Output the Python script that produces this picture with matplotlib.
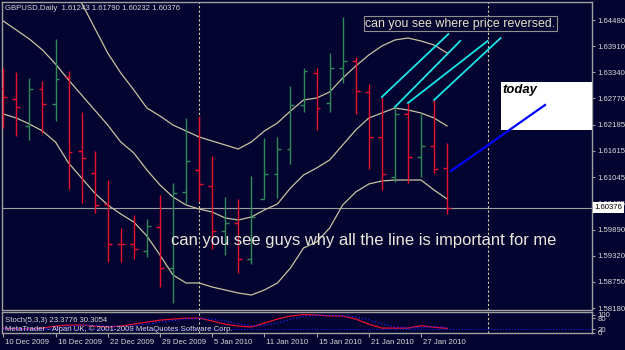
import numpy as np
import matplotlib.pyplot as plt
import matplotlib.transforms as mtransforms
from matplotlib.patches import Rectangle

plt.rcParams['font.family'] = ['Liberation Sans', 'DejaVu Sans']

# GBPUSD daily bars, 10 Dec 2009 .. 29 Jan 2010
opens = [1.62993, 1.62752, 1.62161, 1.62971, 1.62643, 1.63233, 1.61614, 1.61133, 1.60455, 1.59590,
         1.59580, 1.59427, 1.59952, 1.59055, 1.60718, 1.61199, 1.60849, 1.59864, 1.60039, 1.59252,
         1.60564, 1.61111, 1.61658, 1.62621, 1.63321, 1.62664, 1.63430, 1.63583, 1.62905, 1.61921,
         1.61046, 1.62424, 1.61483, 1.61724, 1.61243]
highs = [1.63430, 1.63343, 1.63211, 1.63146, 1.64064, 1.63364, 1.62468, 1.61614, 1.60980, 1.59930,
         1.60214, 1.60127, 1.60652, 1.60914, 1.62336, 1.62380, 1.61505, 1.60608, 1.60564, 1.61068,
         1.61899, 1.61921, 1.63036, 1.63430, 1.63430, 1.63758, 1.64546, 1.63671, 1.63080, 1.62796,
         1.62577, 1.62664, 1.62424, 1.62730, 1.61790]
lows = [1.62118, 1.61943, 1.61855, 1.62008, 1.62271, 1.60783, 1.60477, 1.60258, 1.59186, 1.59186,
        1.59252, 1.59296, 1.58639, 1.58289, 1.60455, 1.60521, 1.59471, 1.59339, 1.58946, 1.59143,
        1.60564, 1.60586, 1.61330, 1.62468, 1.62074, 1.62468, 1.63102, 1.62424, 1.61221, 1.60761,
        1.60936, 1.60914, 1.61046, 1.61133, 1.60232]
closes = [1.62796, 1.62577, 1.62971, 1.62643, 1.63189, 1.61593, 1.61461, 1.60433, 1.59580, 1.59570,
          1.59471, 1.59974, 1.59055, 1.60696, 1.61396, 1.60893, 1.59864, 1.60039, 1.59252, 1.60171,
          1.61111, 1.61658, 1.62621, 1.63364, 1.62555, 1.63430, 1.63583, 1.62927, 1.61921, 1.61111,
          1.62424, 1.61483, 1.61724, 1.61221, 1.60376]

# bollinger bands
upper = [1.66493, 1.66186, 1.65924, 1.65596, 1.65311, 1.65136, 1.64852, 1.64305, 1.63758, 1.63321,
         1.62949, 1.62555, 1.62380, 1.62183, 1.62052, 1.61921, 1.61833, 1.61746, 1.61658, 1.61811,
         1.62052, 1.62227, 1.62489, 1.62730, 1.62774, 1.62905, 1.63211, 1.63474, 1.63714, 1.63911,
         1.64043, 1.64086, 1.64021, 1.63933, 1.63758]
middle = [1.64458, 1.64261, 1.64064, 1.63824, 1.63518, 1.63168, 1.62839, 1.62511, 1.62183, 1.61811,
          1.61571, 1.61199, 1.60871, 1.60608, 1.60433, 1.60346, 1.60280, 1.60149, 1.60105, 1.60171,
          1.60324, 1.60455, 1.60805, 1.61089, 1.61243, 1.61418, 1.61746, 1.62074, 1.62336, 1.62446,
          1.62555, 1.62511, 1.62446, 1.62336, 1.62161]
lower = [1.62424, 1.62336, 1.62205, 1.62052, 1.61811, 1.61352, 1.61024, 1.60696, 1.60433, 1.60236,
         1.60061, 1.59755, 1.59339, 1.58902, 1.58727, 1.58727, 1.58639, 1.58574, 1.58508, 1.58464,
         1.58574, 1.58727, 1.59055, 1.59493, 1.59624, 1.59930, 1.60433, 1.60718, 1.60893, 1.60958,
         1.60980, 1.60980, 1.60980, 1.60761, 1.60564]

# stochastic (5,3,3)
stoch_main = [25, 20, 20, 25, 36, 42, 42, 36, 31, 36, 47, 58, 69, 75, 80, 80, 64, 47, 36, 31,
              53, 75, 92, 100, 97, 92, 92, 75, 47, 25, 25, 25, 38, 30, 23.3776]
stoch_signal = [25, 23, 21, 22, 27, 33, 40, 40, 36, 34, 38, 47, 58, 67, 75, 78, 75, 64, 49, 38,
                40, 53, 73, 89, 96, 96, 94, 86, 71, 49, 32, 25, 29, 33, 30.3054]

price_ticks = [1.64480, 1.63910, 1.63340, 1.62770, 1.62185, 1.61615, 1.61045, 1.60475,
               1.59890, 1.59320, 1.58750, 1.58180]
date_idx = [0, 4, 8, 12, 16, 20, 24, 28, 32]
date_labels = ["10 Dec 2009", "16 Dec 2009", "22 Dec 2009", "29 Dec 2009", "5 Jan 2010",
               "11 Jan 2010", "15 Jan 2010", "21 Jan 2010", "27 Jan 2010"]
separators = [15, 37.1]

# drawn objects (bar index, price)
cyan_lines = [((29, 1.62796), (34.1, 1.64174)),
              ((30, 1.62577), (35.0, 1.64021)),
              ((31, 1.62664), (37.1, 1.64021)),
              ((33, 1.62730), (38.1, 1.64086))]
blue_line = ((34.3, 1.61177), (41.5, 1.62621))
today_box = (38.1, 1.62074, 1.63124)

BG = '#040430'
GRID = '#a0a0a0'
TXT = '#d8d8d8'
GREEN = '#2e8b57'
RED = '#e8102c'
BAND = '#c8c3a0'

fig = plt.figure(figsize=(6.25, 3.5), dpi=100, facecolor=BG)
ax = fig.add_axes([2 / 625, 1 - 310 / 350, 590 / 625, 308 / 350], facecolor=BG)
sub = fig.add_axes([2 / 625, 1 - 333 / 350, 590 / 625, 21 / 350], facecolor=BG)

idx = np.arange(len(closes))
o = np.array(opens)
c = np.array(closes)
colors = np.where(c >= o, GREEN, RED)

ax.vlines(idx, lows, highs, colors=colors, lw=1.0, zorder=3)
ax.hlines(o, idx - 0.3, idx, colors=colors, lw=1.0, zorder=3)
ax.hlines(c, idx, idx + 0.3, colors=colors, lw=1.0, zorder=3)

for band in (upper, middle, lower):
    ax.plot(idx, band, color=BAND, lw=0.9, zorder=2)

ax.axhline(closes[-1], color=GRID, lw=0.8, zorder=1)
for s in separators:
    ax.axvline(s, color='#d8d0a8', lw=0.8, ls=(0, (2, 2)), zorder=1)
    sub.axvline(s, color='#d8d0a8', lw=0.8, ls=(0, (2, 2)), zorder=1)

for (x0, y0), (x1, y1) in cyan_lines:
    ax.plot([x0, x1], [y0, y1], color='#19e6e6', lw=1.3, zorder=4)

ax.add_patch(Rectangle((today_box[0], today_box[1]), 10, today_box[2] - today_box[1],
                       facecolor='white', edgecolor='none', zorder=5))
ax.text(today_box[0] + 0.15, 1.62949, "today", fontsize=9.4, fontweight='bold', fontstyle='italic',
        color='black', ha='left', va='center', zorder=6)
ax.plot([blue_line[0][0], blue_line[1][0]], [blue_line[0][1], blue_line[1][1]],
        color='#0000ff', lw=1.6, zorder=6)

ax.text(27.74, 1.64393, "can you see where price reversed.", fontsize=8.9, color='#e8e0c8',
        ha='left', va='center', zorder=6,
        bbox=dict(boxstyle='square,pad=0.12', facecolor='none', edgecolor='#909090', lw=0.8))
ax.text(12.87, 1.59646, "can you see guys why all the line is important for me", fontsize=11.9,
        color='#ece8dc', ha='left', va='center', zorder=6)

ax.set_xlim(-0.1, 45.1)
ax.set_ylim(1.581363, 1.648738)
ax.set_xticks([])
ax.yaxis.tick_right()
ax.set_yticks(price_ticks)
ax.set_yticklabels([f"{p:.5f}" for p in price_ticks])
ax.tick_params(axis='y', colors=GRID, labelcolor=TXT, length=2.5, width=0.8, pad=1.5, labelsize=5.6)
for sp in ax.spines.values():
    sp.set_color(GRID)
    sp.set_linewidth(1.0)

trans = mtransforms.blended_transform_factory(ax.transAxes, ax.transData)
ax.text(1 + 2.5 / 590, closes[-1], f"{closes[-1]:.5f}", transform=trans, fontsize=5.6, color='black',
        ha='left', va='center', clip_on=False, zorder=7,
        bbox=dict(boxstyle='square,pad=0.25', facecolor='white', edgecolor='none'))

fig.text(5 / 625, 1 - 8 / 350,
         "GBPUSD,Daily  " + " ".join(f"{v:.5f}" for v in (opens[-1], highs[-1], lows[-1], closes[-1])),
         fontsize=5.6, color=TXT, ha='left', va='center')

# stochastic panel
sub.plot(idx, stoch_main, color='#e8102c', lw=0.9)
sub.plot(idx, stoch_signal, color='#2020ff', lw=0.9, ls=':')
sub.axhline(20, color='#2020ff', lw=0.8, ls=':')
sub.set_xlim(-0.1, 45.1)
sub.set_ylim(-2, 114)
sub.yaxis.tick_right()
sub.set_yticks([100, 80, 20, 0])
sub.set_yticklabels(["100", "80", "20", "0"])
sub.tick_params(axis='y', colors=GRID, labelcolor=TXT, length=2.5, width=0.8, pad=1.5, labelsize=5.6)
sub.set_xticks(date_idx)
sub.set_xticklabels(date_labels, ha='left')
sub.tick_params(axis='x', colors=GRID, labelcolor=TXT, length=3, width=0.8, pad=1.5, labelsize=5.6)
shift = mtransforms.ScaledTranslation(0.02, 0, fig.dpi_scale_trans)
for lbl in sub.get_xticklabels():
    lbl.set_transform(lbl.get_transform() + shift)
for sp in sub.spines.values():
    sp.set_color(GRID)
    sp.set_linewidth(1.0)

fig.text(5 / 625, 1 - 320 / 350, "Stoch(5,3,3) 23.3776 30.3054", fontsize=5.6, color=TXT,
         ha='left', va='center')
fig.text(5 / 625, 1 - 329 / 350, "MetaTrader - Alpari UK, \u00a9 2001-2009 MetaQuotes Software Corp.",
         fontsize=5.6, color=TXT, ha='left', va='center')

fig.savefig("out.png", dpi=100, facecolor=BG)
